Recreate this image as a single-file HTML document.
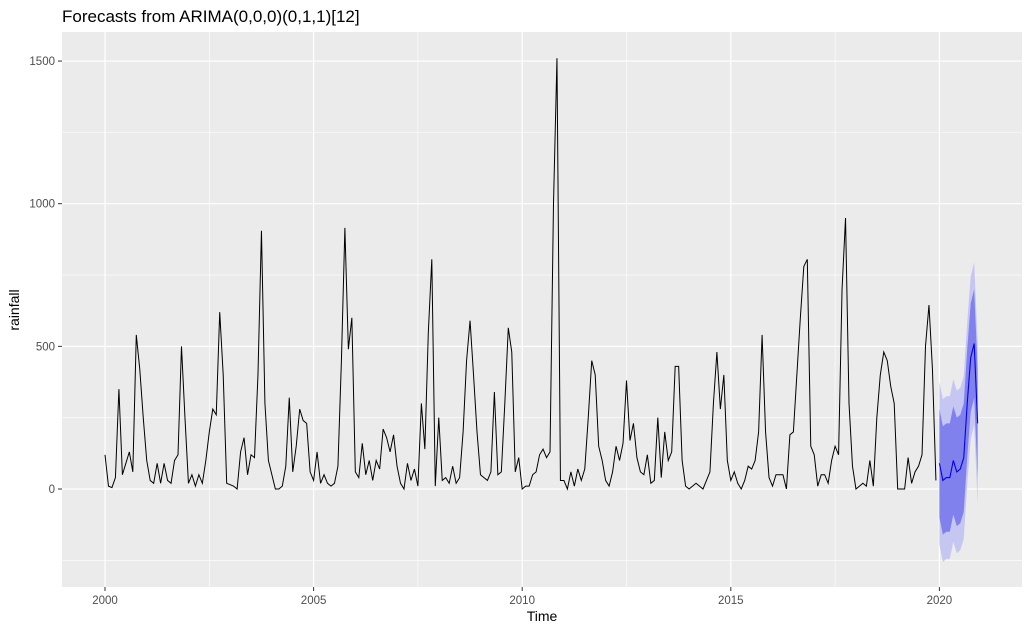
<!DOCTYPE html>
<html><head><meta charset="utf-8"><style>
body{margin:0;background:#fff;font-family:"Liberation Sans",sans-serif;}
svg text{font-family:"Liberation Sans",sans-serif;}
</style></head><body>
<svg id="chart" width="1030" height="632" xmlns="http://www.w3.org/2000/svg">
<rect width="1030" height="632" fill="#fff"/>
<text x="62" y="22" font-size="17" fill="#000">Forecasts from ARIMA(0,0,0)(0,1,1)[12]</text>
<rect x="62" y="32" width="960" height="555" fill="#ebebeb"/>
<g id="grid"></g><g id="bands"></g><g id="lines"></g><g id="axes"></g>
<text x="542" y="621" font-size="14" text-anchor="middle" fill="#000">Time</text>
<text transform="translate(19,310) rotate(-90)" font-size="14" text-anchor="middle" fill="#000">rainfall</text>
</svg>
<script>
const rainfall = [
120,10,5,40,350,50,90,130,60,540,420,250,
100,30,20,90,20,90,30,20,100,120,500,250,
20,50,10,50,20,100,200,280,260,620,400,20,
15,10,0,130,180,50,120,110,400,905,300,100,
50,0,0,10,80,320,60,150,280,240,230,60,
30,130,20,50,20,10,20,80,450,915,490,600,
60,40,160,50,100,30,100,70,210,180,130,190,
80,20,0,90,30,70,10,300,140,550,805,10,
250,30,40,20,80,20,40,200,450,590,400,200,
50,40,30,60,340,50,60,300,565,480,60,110,
0,10,10,50,60,120,140,110,130,1000,1510,30,
30,0,60,10,70,30,70,250,450,400,150,100,
30,10,60,150,100,160,380,170,230,110,60,50,
120,20,30,250,40,200,100,130,430,430,100,10,
0,10,20,10,0,30,60,300,480,280,400,100,
30,60,20,0,30,80,70,100,200,540,200,40,
10,50,50,50,0,190,200,400,600,780,805,150,
120,10,50,50,20,100,150,120,700,950,300,80,
0,10,20,10,100,10,250,400,480,450,360,300,
0,0,0,110,20,60,80,120,500,645,420,30];
const fcMean = [90,30,40,40,100,60,70,110,300,460,510,230];
const fcLo80 = fcMean.map(v=>v-190);
const fcHi80 = fcMean.map(v=>v+190);
const fcLo95 = fcMean.map(v=>v-285);
const fcHi95 = fcMean.map(v=>v+285);
const yTicks = [0,500,1000,1500];
const xTicks = [2000,2005,2010,2015,2020];

const X = t => 105 + (t-2000)*41.72;
const Y = v => 489 - v*0.2853;
const NS='http://www.w3.org/2000/svg';
function mk(tag, attrs, parent){const e=document.createElementNS(NS,tag);for(const k in attrs)e.setAttribute(k,attrs[k]);parent.appendChild(e);return e;}
const grid=document.getElementById('grid'), axes=document.getElementById('axes');
const minor=[-250,250,750,1250];
minor.forEach(v=>{const l=mk('line',{x1:62,x2:1022,y1:Y(v),y2:Y(v),stroke:'#fff','stroke-width':0.6},grid);

});
[1997.5,2002.5,2007.5,2012.5,2017.5,2022.5].forEach(t=>{if(X(t)<62||X(t)>1022)return;const l=mk('line',{x1:X(t),x2:X(t),y1:32,y2:587,stroke:'#fff','stroke-width':0.6},grid);

});
yTicks.forEach(v=>{const l=mk('line',{x1:62,x2:1022,y1:Y(v),y2:Y(v),stroke:'#fff','stroke-width':1.2},grid);


mk('line',{x1:58,x2:62,y1:Y(v),y2:Y(v),stroke:'#333'},axes);
const t=mk('text',{x:55,y:Y(v)+4,'font-size':11.5,'text-anchor':'end',fill:'#4d4d4d'},axes);t.textContent=v;

});
xTicks.forEach(v=>{const l=mk('line',{x1:X(v),x2:X(v),y1:32,y2:587,stroke:'#fff','stroke-width':1.2},grid);


mk('line',{x1:X(v),x2:X(v),y1:587,y2:591,stroke:'#333'},axes);
const t=mk('text',{x:X(v),y:604,'font-size':11.5,'text-anchor':'middle',fill:'#4d4d4d'},axes);t.textContent=v;

});
const bands=document.getElementById('bands'), lines=document.getElementById('lines');
function band(lo,hi,color,name){let pts=[];const n=fcMean.length;
for(let i=0;i<n;i++)pts.push(X(2020+i/12)+','+Y(hi[i]));
for(let i=n-1;i>=0;i--)pts.push(X(2020+i/12)+','+Y(lo[i]));
const p=mk('polygon',{points:pts.join(' '),fill:color},bands);

}
band(fcLo95,fcHi95,'#c6c6f3','interval-95');
band(fcLo80,fcHi80,'#8181ee','interval-80');
const hp=rainfall.map((v,i)=>X(2000+i/12)+','+Y(v)).join(' ');
const h=mk('polyline',{points:hp,fill:'none',stroke:'#000','stroke-width':1},lines);


const fp=fcMean.map((v,i)=>X(2020+i/12)+','+Y(v)).join(' ');
const f=mk('polyline',{points:fp,fill:'none',stroke:'#0000ee','stroke-width':1.1},lines);


</script>
</body></html>
